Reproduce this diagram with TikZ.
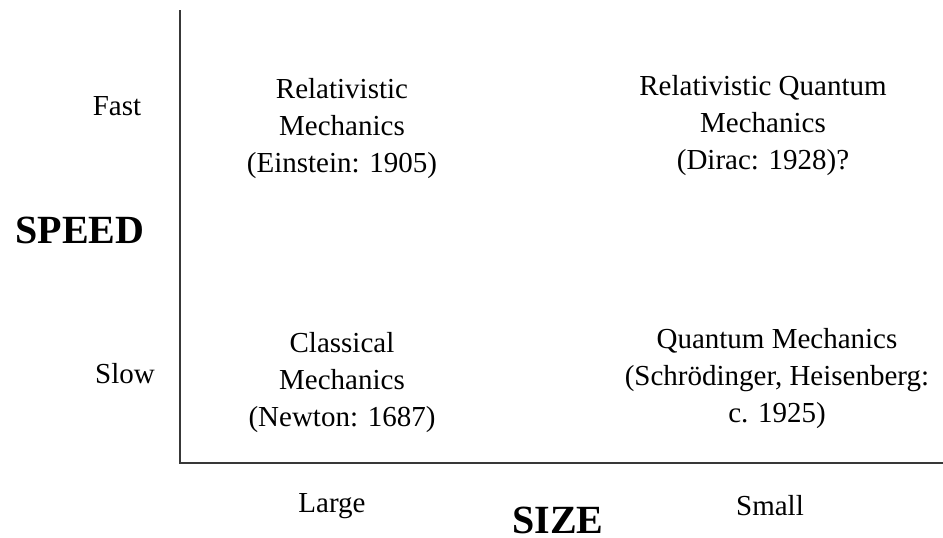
\documentclass[tikz,border=0pt]{standalone}
\usepackage{fontspec}
\setmainfont{Liberation Serif}
\begin{document}
\begin{tikzpicture}[x=1pt,y=-1pt,
  axis/.style={line width=2pt,draw=black!78},
  lbl/.style={font=\fontsize{29}{37}\selectfont,align=center,inner sep=0pt,anchor=base},
  big/.style={font=\fontsize{40}{44}\selectfont\bfseries,inner sep=0pt,anchor=base}]
\useasboundingbox (0,0) rectangle (943,538);
\coordinate (top) at (180,10);
\coordinate (origin) at (180,463);
\coordinate (right) at (943,463);
\draw[axis] (top) -- (origin) -- (right);
\node[lbl] (fast) at (117,115) {Fast};
\node[lbl] (slow) at (125,383) {Slow};
\node[big] (speed) at (80,243) {SPEED};
\node[lbl] (large) at (332,512) {Large};
\node[big] (size) at (558,533) {SIZE};
\node[lbl] (small) at (770,515) {Small};
\node[lbl] (rm) at (342,172) {Relativistic\\Mechanics\\(Einstein: 1905)};
\node[lbl] (rqm) at (763,169) {Relativistic Quantum\\Mechanics\\(Dirac: 1928)?};
\node[lbl] (cm) at (342,426) {Classical\\Mechanics\\(Newton: 1687)};
\node[lbl] (qm) at (777,422) {Quantum Mechanics\\(Schrödinger, Heisenberg:\\c. 1925)};
\end{tikzpicture}
\end{document}
